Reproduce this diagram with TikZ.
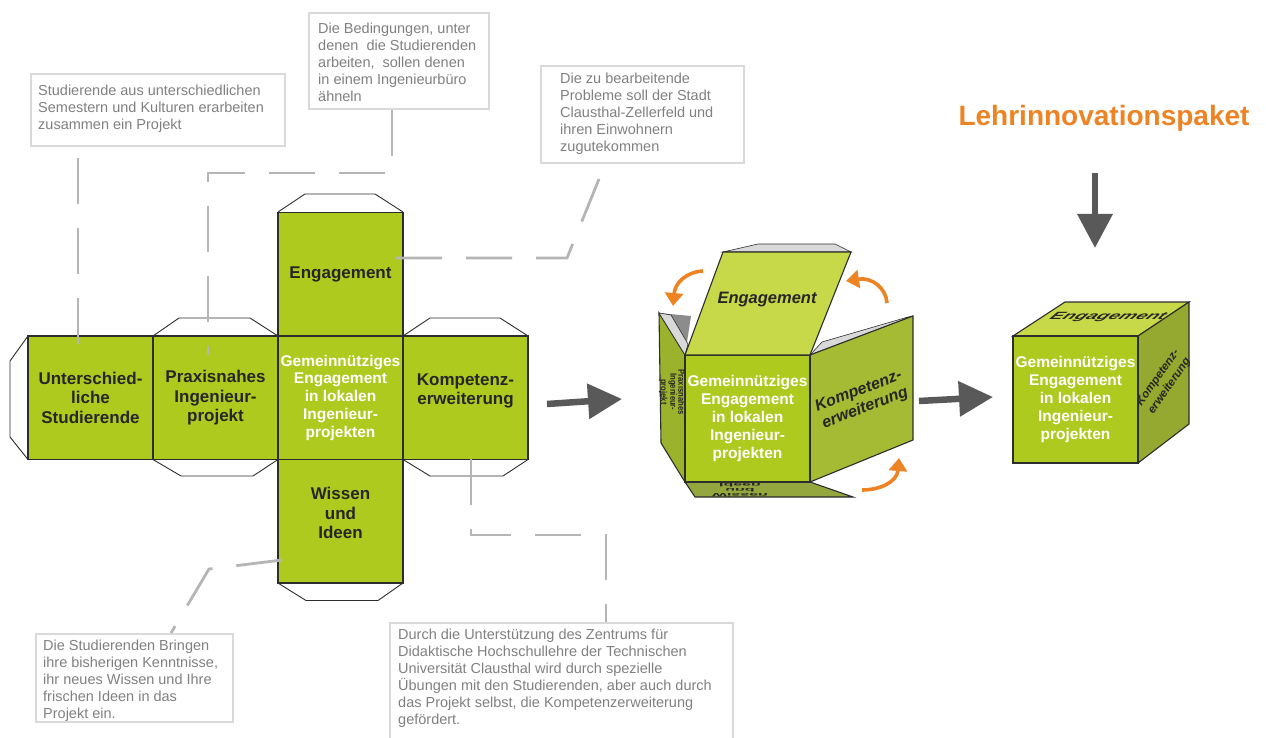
\documentclass[tikz,border=0pt]{standalone}
\usepackage{fontspec}
\setmainfont{Liberation Sans}
\usetikzlibrary{arrows.meta}

\definecolor{netgreen}{RGB}{175,202,31}
\definecolor{lidgreen}{RGB}{199,217,72}
\definecolor{sidegreen}{RGB}{166,187,52}
\definecolor{leftgreen}{RGB}{155,178,44}
\definecolor{basegreen}{RGB}{148,166,62}
\definecolor{paketorange}{RGB}{238,131,36}
\definecolor{notegray}{RGB}{128,128,128}
\definecolor{framegray}{RGB}{217,217,217}
\definecolor{linkgray}{RGB}{181,181,181}
\definecolor{arrowgray}{RGB}{89,89,89}
\definecolor{lineblack}{RGB}{45,45,45}

\begin{document}
\begin{tikzpicture}[x=1pt,y=-1pt,
  face/.style={draw=lineblack,line width=1.3pt,fill=netgreen,minimum width=125pt,minimum height=123.5pt,inner sep=0pt},
  flap/.style={draw=lineblack,line width=0.9pt,fill=white},
  facelabel/.style={text=black!85,font=\bfseries\fontsize{17}{19.5}\selectfont,align=center},
  mainlabel/.style={text=white,font=\bfseries\fontsize{15.5}{17.8}\selectfont,align=center},
  sidelabel/.style={text=black!85,font=\bfseries\itshape\fontsize{16}{18}\selectfont,align=center},
  panel/.style={draw=lineblack,line width=1.1pt},
  tab/.style={draw=lineblack,line width=0.6pt,fill=black!15},
  noteframe/.style={draw=framegray,line width=2.2pt,anchor=north west,inner sep=0pt},
  note/.style={text=notegray,font=\fontsize{14.5}{17}\selectfont,align=left,anchor=north west,inner sep=0pt},
  link/.style={draw=linkgray,line width=2.8pt,dash pattern=on 46pt off 24pt},
  bigarrow/.style={draw=arrowgray,line width=6.5pt,-{Triangle[length=34pt,width=34pt]}},
  turn/.style={draw=paketorange,line width=3.6pt,-{Triangle[length=13pt,width=18pt]}}
]
\useasboundingbox (0,0) rectangle (1266,738);

% glue flaps of the net
\draw[flap] (28,336) -- (10,361) -- (10,437) -- (28,459.5);
\draw[flap] (153,336) -- (179,318) -- (250,318) -- (278,336);
\draw[flap] (153,459.5) -- (181,476) -- (253,476) -- (278,459.5);
\draw[flap] (278,212) -- (305,194) -- (375,194) -- (403,212);
\draw[flap] (403,336) -- (430,318) -- (500,318) -- (528,336);
\draw[flap] (403,459.5) -- (430,476) -- (503,476) -- (528,459.5);
\draw[flap] (278,583) -- (306,600.5) -- (378,600.5) -- (403,583);

% faces of the net
\node[face,facelabel] (unter) at (90.5,397.75) {Unterschied-\\liche\\Studierende};
\node[face,facelabel] (praxis) at (215.5,397.75) {Praxisnahes\\Ingenieur-\\projekt};
\node[face,mainlabel] (gemein) at (340.5,397.75) {Gemeinnütziges\\Engagement\\in lokalen\\Ingenieur-\\projekten};
\node[face] (kompetenz) at (465.5,397.75) {};
\node[facelabel] (kompetenztext) at (465.5,391) {Kompetenz-\\erweiterung};
\node[face,facelabel] (engage) at (340.5,274) {Engagement};
\node[face] (wissen) at (340.5,521.25) {};
\node[facelabel] (wissentext) at (340.5,513) {Wissen\\und\\Ideen};

% half folded cube
\fill[black!45] (659,313) -- (691,316) -- (685,355) -- cycle;
\draw[panel,fill=leftgreen] (659,313) -- (685,355) -- (685,482) -- (661,443) -- cycle;
\draw[tab] (659,313) -- (671,315) -- (688,344) -- (685,355) -- cycle;
\node[rotate=-90,xscale=0.85,text=black!85,font=\bfseries\fontsize{9}{8}\selectfont,align=center] (sidetext) at (672,392) {Praxisnahes\\Ingenieur-\\projekt};
\draw[tab] (810,355) -- (822,342) -- (908,317) -- (913,316) -- cycle;
\draw[panel,fill=sidegreen] (810,355) -- (913,316) -- (913,440) -- (810,482) -- cycle;
\node[sidelabel,rotate=21] (sidekomp) at (862,400) {Kompetenz-\\erweiterung};
\draw[panel,fill=basegreen] (685,482) -- (810,482) -- (853,497) -- (695,497) -- cycle;
\begin{scope}
  \clip (685,482) -- (810,482) -- (853,497) -- (695,497) -- cycle;
  \node[yscale=-0.3,text=black!85,font=\bfseries\fontsize{16}{16}\selectfont,align=center] (basetext) at (740,490) {Wissen\\und\\Ideen};
\end{scope}
\node[face,mainlabel,minimum height=127pt] (front) at (747.5,418.5) {Gemeinnütziges\\Engagement\\in lokalen\\Ingenieur-\\projekten};
\draw[tab] (723,252) -- (758,244) -- (835,244) -- (851,252) -- cycle;
\draw[panel,fill=lidgreen] (685,355) -- (810,355) -- (851,252) -- (723,252) -- cycle;
\node[sidelabel,font=\bfseries\itshape\fontsize{16.5}{18}\selectfont] (lidtext) at (767,300) {Engagement};

% turning arrows
\draw[turn] (703,271) .. controls (686,272) and (675,283) .. (673,306);
\draw[turn] (887,303) .. controls (886,288) and (872,277) .. (846,281);
\draw[turn] (862,490) .. controls (880,490) and (897,482) .. (899,458);

% closed cube
\draw[panel,fill=lidgreen] (1013,336) -- (1138,336) -- (1189,302) -- (1065,302) -- cycle;
\begin{scope}
  \clip (1013,336) -- (1138,336) -- (1189,302) -- (1065,302) -- cycle;
  \node[sidelabel,font=\bfseries\itshape\fontsize{19}{19}\selectfont,xslant=0.8,yscale=0.55] (toptext) at (1108,317) {Engagement};
\end{scope}
\draw[panel,fill=sidegreen!90!black] (1138,336) -- (1189,302) -- (1189,424) -- (1138,463) -- cycle;
\begin{scope}
  \clip (1138,336) -- (1189,302) -- (1189,424) -- (1138,463) -- cycle;
  \node[sidelabel,font=\bfseries\itshape\fontsize{11.5}{14}\selectfont,rotate=55] (righttext) at (1164,382) {Kompetenz-\\erweiterung};
\end{scope}
\node[face,mainlabel,minimum height=127pt] (cube) at (1075.5,399.5) {Gemeinnütziges\\Engagement\\in lokalen\\Ingenieur-\\projekten};

% title and big arrows
\node[text=paketorange,font=\bfseries\fontsize{28}{32}\selectfont] (title) at (1104,118) {Lehrinnovationspaket};
\coordinate (fold1) at (547,404);
\coordinate (fold2) at (622,399);
\coordinate (close1) at (919,401);
\coordinate (close2) at (993,397);
\coordinate (pack1) at (1095,173);
\coordinate (pack2) at (1095,248);
\draw[bigarrow] (fold1) -- (fold2);
\draw[bigarrow] (close1) -- (close2);
\draw[bigarrow] (pack1) -- (pack2);

% notes
\node[noteframe,minimum width=254pt,minimum height=72pt] (studframe) at (30,73) {};
\node[note] (studnote) at (38,84.5) {Studierende aus unterschiedlichen\\Semestern und Kulturen erarbeiten\\zusammen ein Projekt};
\node[noteframe,minimum width=180pt,minimum height=96pt] (bueroframe) at (308,12) {};
\node[note] (bueronote) at (318,22.5) {Die Bedingungen, unter\\denen\ \ die Studierenden\\arbeiten,\ \ sollen denen\\in einem Ingenieurbüro\\ähneln};
\node[noteframe,minimum width=203pt,minimum height=97pt] (stadtframe) at (540,65) {};
\node[note] (stadtnote) at (560,72.4) {Die zu bearbeitende\\Probleme soll der Stadt\\Clausthal-Zellerfeld und\\ihren Einwohnern\\zugutekommen};
\node[noteframe,minimum width=197pt,minimum height=88pt] (ideenframe) at (35,633) {};
\node[note] (ideennote) at (43,640) {Die Studierenden Bringen\\ihre bisherigen Kenntnisse,\\ihr neues Wissen und Ihre\\frischen Ideen in das\\Projekt ein.};
\node[noteframe,minimum width=343pt,minimum height=125pt] (zentrumframe) at (389,622) {};
\node[note] (zentrumnote) at (398,629) {Durch die Unterstützung des Zentrums für\\Didaktische Hochschullehre der Technischen\\Universität Clausthal wird durch spezielle\\Übungen mit den Studierenden, aber auch durch\\das Projekt selbst, die Kompetenzerweiterung\\gefördert.};

% dashed leaders from the notes to the faces
\coordinate (l1a) at (78,158);
\coordinate (l1b) at (78,355);
\coordinate (l2a) at (392,110);
\coordinate (l2b) at (392,173);
\coordinate (l2c) at (208,173);
\coordinate (l2d) at (208,355);
\coordinate (l3a) at (599,179);
\coordinate (l3b) at (567,258);
\coordinate (l3c) at (387,258);
\coordinate (l4a) at (282,560);
\coordinate (l4b) at (209,569);
\coordinate (l4c) at (171,633);
\coordinate (l5a) at (471,459);
\coordinate (l5b) at (471,535);
\coordinate (l5c) at (606,535);
\coordinate (l5d) at (606,622);
\draw[link] (l1a) -- (l1b);
\draw[link] (l2a) -- (l2b) -- (l2c) -- (l2d);
\draw[link] (l3a) -- (l3b) -- (l3c);
\draw[link] (l4a) -- (l4b) -- (l4c);
\draw[link] (l5a) -- (l5b) -- (l5c) -- (l5d);
\end{tikzpicture}
\end{document}
